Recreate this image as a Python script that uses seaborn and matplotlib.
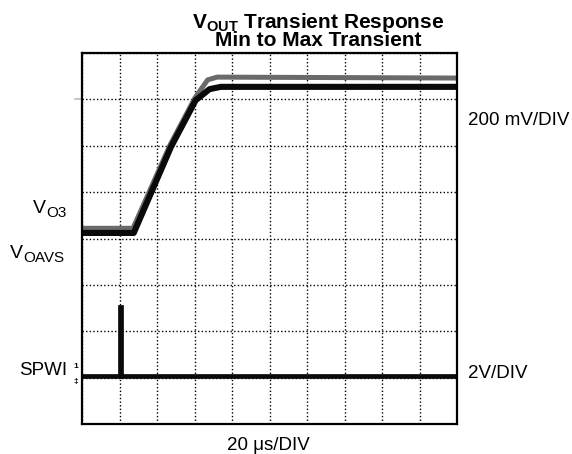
import numpy as np
import pandas as pd
import matplotlib

matplotlib.use('Agg')
import matplotlib.pyplot as plt
import seaborn as sns

# Дані зчитані з осцилограми: час у мкс (20 мкс/поділку), рівень у поділках екрана
vout_max_t = [0, 27.2, 47.0, 60.2, 67.0, 72.0, 200]
vout_max_v = [4.22, 4.22, 6.02, 7.03, 7.42, 7.48, 7.46]

vout_min_t = [0, 27.6, 47.4, 60.6, 68.0, 74.0, 200]
vout_min_v = [4.12, 4.12, 5.97, 6.98, 7.22, 7.27, 7.27]

spwi_t = [0, 20.2, 20.2, 21.0, 21.0, 200]
spwi_v = [1.045, 1.045, 2.52, 2.52, 1.045, 1.045]

ref_marker_div = 7.0

sns.set_style("white")
plt.rcParams['font.family'] = ['Liberation Sans', 'DejaVu Sans']
plt.rcParams['text.color'] = 'black'
plt.rcParams['mathtext.fontset'] = 'custom'
plt.rcParams['mathtext.rm'] = 'Liberation Sans'
plt.rcParams['mathtext.bf'] = 'Liberation Sans:bold'

W, H = 572, 454
fig = plt.figure(figsize=(W / 100, H / 100), dpi=100)
ax = fig.add_axes([82 / W, 1 - 424 / H, 375 / W, 371 / H])

df_max = pd.DataFrame({'t': vout_max_t, 'v': vout_max_v})
df_min = pd.DataFrame({'t': vout_min_t, 'v': vout_min_v})
df_spwi = pd.DataFrame({'t': spwi_t, 'v': spwi_v})

sns.lineplot(data=df_max, x='t', y='v', ax=ax, color='#6a6a6a', lw=3.6,
             estimator=None, sort=False)
sns.lineplot(data=df_min, x='t', y='v', ax=ax, color='#0a0a0a', lw=4.4,
             estimator=None, sort=False)
sns.lineplot(data=df_spwi, x='t', y='v', ax=ax, color='#0a0a0a', lw=3.4,
             estimator=None, sort=False, solid_joinstyle='miter')

ax.set_xlim(0, 200)
ax.set_ylim(0, 8)
ax.set_xticks(np.arange(0, 201, 20))
ax.set_yticks(np.arange(0, 9, 1))
ax.grid(True, color='black', linestyle=(0, (1, 1.6)), linewidth=1.0)
ax.tick_params(length=0, labelbottom=False, labelleft=False)
ax.set_xlabel('')
ax.set_ylabel('')
for s in ax.spines.values():
    s.set_color('black')
    s.set_linewidth(1.6)
    s.set_zorder(5)

# маркер рівня зліва
ax.plot([-0.02, 0], [ref_marker_div, ref_marker_div], color='#c8c8c8', lw=1.5,
        transform=ax.get_yaxis_transform(), clip_on=False)

# заголовок (два рядки в одному тексті)
fig.text(318 / W, 1 - 11 / H,
         '$\\mathbf{V_{OUT}}$ Transient Response\nMin to Max Transient',
         ha='center', va='top', multialignment='center', linespacing=0.8,
         fontsize=15, fontweight='bold')

# підписи каналів
fig.text(33 / W, 1 - 213 / H, 'V', ha='left', va='baseline', fontsize=14)
fig.text(46 / W, 1 - 217 / H, 'O3', ha='left', va='baseline', fontsize=11)
fig.text(10 / W, 1 - 258 / H, 'V', ha='left', va='baseline', fontsize=14)
fig.text(23 / W, 1 - 262 / H, 'OAVS', ha='left', va='baseline', fontsize=11)
fig.text(67 / W, 1 - 375 / H, 'SPWI', ha='right', va='baseline', fontsize=13.5)
fig.text(78 / W, 1 - 368 / H, '1', ha='right', va='baseline', fontsize=6, fontweight='bold')
fig.text(78 / W, 1 - 383 / H, '\u2021', ha='right', va='baseline', fontsize=6, fontweight='bold')

fig.text(468 / W, 1 - 125 / H, '200 mV/DIV', ha='left', va='baseline', fontsize=13.5)
fig.text(468 / W, 1 - 378 / H, '2V/DIV', ha='left', va='baseline', fontsize=13.5)
fig.text(268 / W, 1 - 450 / H, '20 \u03bcs/DIV', ha='center', va='baseline', fontsize=13.5)

fig.savefig('out.png', dpi=100)
plt.close(fig)
